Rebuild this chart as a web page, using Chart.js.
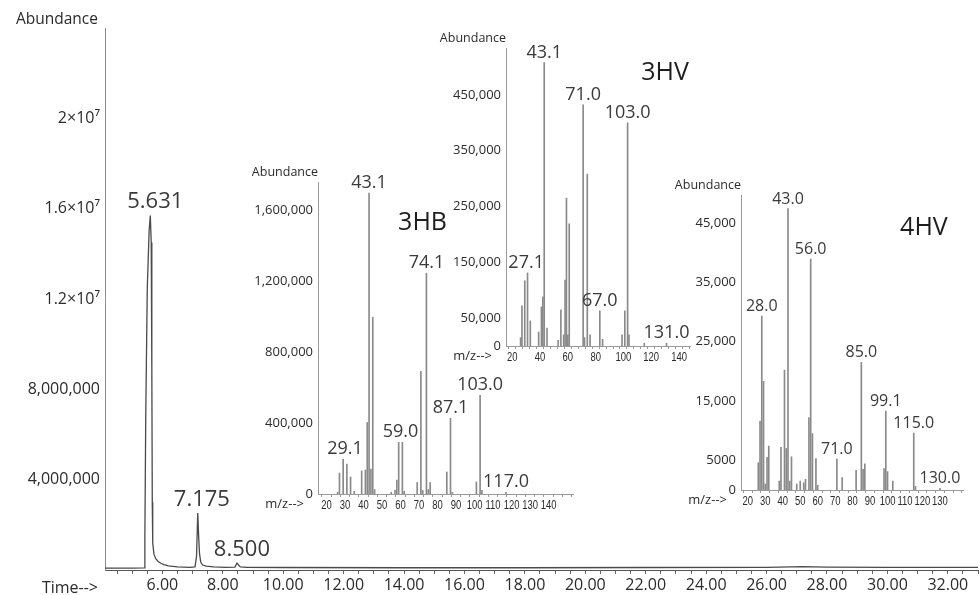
<!DOCTYPE html>
<html>
<head>
<meta charset="utf-8">
<script src="https://cdn.jsdelivr.net/npm/chart.js@4.4.1/dist/chart.umd.min.js"></script>
<style>
  body { margin: 0; background: #fff; }
  #wrap { position: relative; width: 980px; height: 595px; overflow: hidden; }
  canvas { position: absolute; }
</style>
</head>
<body>
<div id="wrap">
  <canvas id="tic" width="980" height="595" style="left:0;top:0"></canvas>
  <canvas id="hb" width="345" height="360" style="left:240px;top:160px"></canvas>
  <canvas id="hv" width="280" height="350" style="left:420px;top:20px"></canvas>
  <canvas id="hv4" width="315" height="340" style="left:660px;top:170px"></canvas>
</div>
<script>
// total ion chromatogram
const ticTime = [4.1, 5.0, 5.40, 5.42, 5.45, 5.50, 5.56, 5.60, 5.63, 5.65, 5.665, 5.68, 5.72, 5.78, 5.86, 5.95, 6.05, 6.2, 6.5, 6.9,
                 7.08, 7.13, 7.17, 7.20, 7.23, 7.27, 7.33, 7.45, 7.7, 8.1, 8.4, 8.47, 8.52, 8.58, 8.8, 10, 14, 18, 22, 26, 27.2, 28.0, 30, 33];
const ticAbund = [0.08e6, 0.08e6, 0.09e6, 1.5e6, 7e6, 12.5e6, 15.0e6, 15.7e6, 14.5e6, 9e6, 3e6, 1.2e6, 0.7e6, 0.5e6, 0.38e6, 0.3e6, 0.24e6, 0.18e6, 0.14e6, 0.12e6,
                  0.14e6, 0.6e6, 2.52e6, 1.5e6, 0.7e6, 0.35e6, 0.22e6, 0.17e6, 0.14e6, 0.12e6, 0.13e6, 0.3e6, 0.22e6, 0.14e6, 0.12e6, 0.11e6, 0.1e6, 0.1e6, 0.11e6, 0.12e6, 0.15e6, 0.13e6, 0.12e6, 0.12e6];
const ticXLabels = [6, 8, 10, 12, 14, 16, 18, 20, 22, 24, 26, 28, 30, 32];
const ticYTicks = [4e6, 8e6, 12e6, 16e6, 20e6];
const ticYLabels = ['4,000,000', '8,000,000', '1.2×10⁷', '1.6×10⁷', '2×10⁷'];
const ticPeaks = ['5.631', '7.175', '8.500'];
const ticPeakAt = [5.631, 7.175, 8.5];

// 3HB mass spectrum
const hbMz = [26, 27, 29, 31, 33, 35, 39, 41, 42, 43, 44, 45, 46, 55, 57, 58, 59, 61, 62, 69, 71, 72, 74, 75, 76, 85, 87, 88, 101, 103, 104, 117];
const hbAbund = [10e3, 118e3, 195e3, 169e3, 96e3, 15e3, 130e3, 135e3, 403e3, 1696e3, 140e3, 996e3, 25e3, 10e3, 20e3, 79e3, 291e3, 291e3, 15e3,
                 65e3, 691e3, 20e3, 1244e3, 25e3, 65e3, 124e3, 426e3, 10e3, 68e3, 556e3, 20e3, 10e3];
const hbXLabels = [20, 30, 40, 50, 60, 70, 80, 90, 100, 110, 120, 130, 140];
const hbYTicks = [0, 400000, 800000, 1200000, 1600000];
const hbYLabels = ['0', '400,000', '800,000', '1,200,000', '1,600,000'];
const hbPeaks = ['43.1', '74.1', '103.0', '87.1', '59.0', '29.1', '117.0'];
const hbPeakAt = [43, 74, 103, 87, 60, 30, 117];

// 3HV mass spectrum
const hvMz = [26, 27, 29, 31, 33, 39, 41, 42, 43, 45, 53, 55, 57, 58, 59, 60, 61, 71, 72, 74, 76, 83, 85, 99, 101, 103, 104, 115, 131];
const hvAbund = [15e3, 72e3, 117e3, 131e3, 45e3, 25e3, 70e3, 88e3, 508e3, 32e3, 10e3, 65e3, 20e3, 118e3, 265e3, 20e3, 219e3,
                 432e3, 15e3, 308e3, 20e3, 63e3, 12e3, 20e3, 63e3, 400e3, 20e3, 5e3, 5e3];
const hvXLabels = [20, 40, 60, 80, 100, 120, 140];
const hvYTicks = [0, 50000, 150000, 250000, 350000, 450000];
const hvYLabels = ['0', '50,000', '150,000', '250,000', '350,000', '450,000'];
const hvPeaks = ['43.1', '71.0', '103.0', '27.1', '67.0', '131.0'];
const hvPeakAt = [43, 71, 103, 30, 83, 131];

// 4HV mass spectrum
const hv4Mz = [26, 27, 28, 29, 30, 31, 32, 38, 39, 41, 42, 43, 44, 45, 48, 50, 52, 53, 55, 56, 57, 59, 60,
               71, 74, 82, 85, 86, 87, 98, 99, 100, 103, 115, 116, 130];
const hv4Abund = [4.6e3, 11.6e3, 29.3e3, 18.3e3, 1.0e3, 5.5e3, 7.4e3, 1.5e3, 7.2e3, 20.2e3, 7.0e3, 47.4e3, 1.5e3, 5.6e3, 1.0e3, 1.5e3, 1.2e3, 1.8e3, 12.2e3, 38.9e3, 9.5e3, 5.3e3, 0.8e3,
                  5.2e3, 2.1e3, 3.3e3, 21.5e3, 3.5e3, 4.4e3, 3.6e3, 13.3e3, 3.1e3, 1.5e3, 9.6e3, 0.6e3, 0.3e3];
const hv4XLabels = [20, 30, 40, 50, 60, 70, 80, 90, 100, 110, 120, 130];
const hv4YTicks = [0, 5000, 15000, 25000, 35000, 45000];
const hv4YLabels = ['0', '5000', '15,000', '25,000', '35,000', '45,000'];
const hv4Peaks = ['43.0', '56.0', '28.0', '85.0', '99.1', '115.0', '71.0', '130.0'];
const hv4PeakAt = [43, 56, 28, 85, 99, 115, 71, 130];

Chart.defaults.font.family = "'Open Sans','Noto Sans','DejaVu Sans',sans-serif";
Chart.defaults.color = '#2b2b2b';
Chart.defaults.animation = false;

function fixedTicks(values) {
  return scale => { scale.ticks = values.map(v => ({ value: v })); };
}
function stepTicks(from, to, step) {
  return scale => {
    const t = [];
    for (let v = from; v <= to + 1e-9; v += step) t.push({ value: +v.toFixed(2) });
    scale.ticks = t;
  };
}

// axis names, compound title, narrow m/z tick labels and peak labels
function frame(o) {
  return {
    id: 'frame',
    afterDraw(chart) {
      const { ctx, chartArea: a } = chart;
      const { x, y } = chart.scales;
      ctx.save();
      ctx.fillStyle = '#2b2b2b';
      ctx.textBaseline = 'middle';
      ctx.textAlign = 'right';
      ctx.font = o.yNameFont;
      ctx.fillText('Abundance', a.left - o.yNameGap, a.top - o.yNameRise);
      ctx.font = o.xNameFont;
      ctx.fillText(o.xName, a.left - o.xNameGap, a.bottom + o.xNameDrop);
      if (o.xLabels) {
        // condensed tick labels, like the narrow face of the original
        ctx.font = '13.5px "Liberation Sans"';
        ctx.textAlign = 'center';
        ctx.textBaseline = 'top';
        o.xLabels.forEach(v => {
          ctx.save();
          ctx.translate(x.getPixelForValue(v), a.bottom + 5);
          ctx.scale(0.7, 1);
          ctx.fillText(String(v), 0, 0);
          ctx.restore();
        });
      }
      if (o.title) {
        ctx.font = o.titleFont;
        ctx.textAlign = 'center';
        ctx.textBaseline = 'middle';
        ctx.fillStyle = '#1e1e1e';
        ctx.fillText(o.title, a.left + a.width * o.titleAt[0], a.top + a.height * o.titleAt[1]);
      }
      const pts = chart.data.datasets[0].data;
      ctx.font = o.peakFont;
      ctx.textAlign = 'center';
      ctx.textBaseline = 'alphabetic';
      ctx.fillStyle = '#3a3a3a';
      o.peaks.forEach((t, i) => {
        const at = o.peakAt[i];
        let top = 0;
        pts.forEach(p => { if (Math.abs(p.x - at) <= o.win) top = Math.max(top, p.y); });
        ctx.fillText(t, x.getPixelForValue(at) + (o.peakDx || 0), y.getPixelForValue(top) - o.peakGap);
      });
      ctx.restore();
    }
  };
}

new Chart(document.getElementById('tic'), {
  type: 'line',
  data: {
    datasets: [{
      data: ticTime.map((t, i) => ({ x: t, y: ticAbund[i] })),
      borderColor: '#4a4a4a', borderWidth: 1.3, pointRadius: 0, tension: 0
    }]
  },
  options: {
    responsive: false,
    layout: { padding: { top: 28, right: 0, left: 0, bottom: 0 } },
    plugins: { legend: { display: false }, tooltip: { enabled: false } },
    scales: {
      x: {
        type: 'linear', min: 4.1, max: 33,
        afterBuildTicks: stepTicks(4.5, 33, 0.5),
        afterFit: s => { s.height = 25; },
        grid: { drawOnChartArea: false, tickLength: 4, color: '#666' },
        border: { color: '#555' },
        ticks: { autoSkip: false, maxRotation: 0, padding: 2, font: { size: 16 },
                 callback: v => ticXLabels.includes(v) ? v.toFixed(2) : '' }
      },
      y: {
        min: 0, max: 24e6,
        afterBuildTicks: fixedTicks(ticYTicks),
        afterFit: s => { s.width = 105; },
        grid: { display: false, drawTicks: false },
        border: { color: '#8a8a8a' },
        ticks: { padding: 5, font: { size: 16 }, callback: v => ticYLabels[ticYTicks.indexOf(v)] }
      }
    }
  },
  plugins: [frame({
    yNameFont: '15.5px "Open Sans"', yNameGap: 7, yNameRise: 8,
    xName: 'Time-->', xNameFont: '16px "Open Sans"', xNameGap: 7, xNameDrop: 18,
    peaks: ticPeaks, peakAt: ticPeakAt, win: 0.1, peakGap: 7, peakDx: 4, peakFont: '22px "Open Sans"'
  })]
});

function spectrum(id, mz, ab, s) {
  return new Chart(document.getElementById(id), {
    type: 'bar',
    data: {
      datasets: [{
        data: mz.map((m, i) => ({ x: m, y: ab[i] })),
        backgroundColor: '#8a8a8a', barThickness: 1, grouped: false
      }]
    },
    options: {
      responsive: false,
      layout: { padding: { top: s.padTop, right: s.padRight, left: 0, bottom: 0 } },
      plugins: { legend: { display: false }, tooltip: { enabled: false } },
      scales: {
        x: {
          type: 'linear', min: s.xMin, max: s.xMax, offset: false,
          afterBuildTicks: stepTicks(20, s.xMax, 5),
          afterFit: sc => { sc.height = s.xHeight; },
          grid: { drawOnChartArea: false, tickLength: 3, color: '#9a9a9a' },
          border: { color: '#9a9a9a', dash: [2, 1] },
          ticks: { display: false, autoSkip: false }
        },
        y: {
          min: 0, max: s.yMax,
          afterBuildTicks: fixedTicks(s.yTicks),
          afterFit: sc => { sc.width = s.yWidth; },
          grid: { display: false, drawTicks: false },
          border: { color: '#9a9a9a' },
          ticks: { padding: 5, font: { size: 13 }, callback: v => s.yLabels[s.yTicks.indexOf(v)] }
        }
      }
    },
    plugins: [frame({
      yNameFont: '12.5px "Open Sans"', yNameGap: 0, yNameRise: 10,
      xName: 'm/z-->', xNameFont: '13px "Open Sans"', xNameGap: 14, xNameDrop: 10,
      xLabels: s.xLabels,
      title: s.title, titleAt: s.titleAt, titleFont: '25px "Open Sans"',
      peaks: s.peaks, peakAt: s.peakAt, win: 1.5, peakGap: 5, peakFont: s.peakFont
    })]
  });
}

spectrum('hb', hbMz, hbAbund, {
  xMin: 15.4, xMax: 153.2, yMax: 1.758e6, yTicks: hbYTicks, yLabels: hbYLabels, xLabels: hbXLabels,
  yWidth: 78, padTop: 22, padRight: 12, xHeight: 26,
  title: '3HB', titleAt: [0.41, 0.13], peaks: hbPeaks, peakAt: hbPeakAt, peakFont: '18px "Open Sans"'
});
spectrum('hv', hvMz, hvAbund, {
  xMin: 15.5, xMax: 147.9, yMax: 534e3, yTicks: hvYTicks, yLabels: hvYLabels, xLabels: hvXLabels,
  yWidth: 86, padTop: 28, padRight: 10, xHeight: 24,
  title: '3HV', titleAt: [0.864, 0.084], peaks: hvPeaks, peakAt: hvPeakAt, peakFont: '18px "Open Sans"'
});
spectrum('hv4', hv4Mz, hv4Abund, {
  xMin: 16.1, xMax: 143.2, yMax: 49.7e3, yTicks: hv4YTicks, yLabels: hv4YLabels, xLabels: hv4XLabels,
  yWidth: 81, padTop: 25, padRight: 12, xHeight: 20,
  title: '4HV', titleAt: [0.824, 0.112], peaks: hv4Peaks, peakAt: hv4PeakAt, peakFont: '16px "Open Sans"'
});
</script>
</body>
</html>
